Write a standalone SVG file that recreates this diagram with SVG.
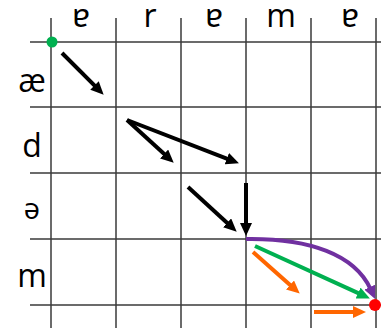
<svg xmlns="http://www.w3.org/2000/svg" width="381" height="328" viewBox="0 0 381 328">
<style>
.grid line{stroke:#3a3a3a;stroke-width:1.5}
.lbl{font-family:"Open Sans","Noto Sans",sans-serif;font-size:32px;fill:#000;text-anchor:middle}
.arr{fill:none;stroke-width:4;stroke-linecap:butt}
</style>
<defs>
<marker id="mk" markerUnits="userSpaceOnUse" markerWidth="14" markerHeight="12" refX="2" refY="6" orient="auto"><path d="M0,0 L13,6 L0,12 z" fill="#000"/></marker>
<marker id="mg" markerUnits="userSpaceOnUse" markerWidth="14" markerHeight="12" refX="2" refY="6" orient="auto"><path d="M0,0 L13,6 L0,12 z" fill="#00b050"/></marker>
<marker id="mo" markerUnits="userSpaceOnUse" markerWidth="14" markerHeight="12" refX="2" refY="6" orient="auto"><path d="M0,0 L13,6 L0,12 z" fill="#ff6600"/></marker>
<marker id="mp" markerUnits="userSpaceOnUse" markerWidth="14" markerHeight="12" refX="2" refY="6" orient="auto"><path d="M0,0 L13,6 L0,12 z" fill="#7030a0"/></marker>
</defs>
<rect width="381" height="328" fill="#fff"/>
<g id="grid" class="grid">
<line x1="30" y1="42" x2="381" y2="42"/>
<line x1="30" y1="107" x2="381" y2="107"/>
<line x1="30" y1="173" x2="381" y2="173"/>
<line x1="30" y1="239" x2="381" y2="239"/>
<line x1="30" y1="305" x2="381" y2="305"/>
<line x1="51" y1="18" x2="51" y2="328"/>
<line x1="116" y1="18" x2="116" y2="328"/>
<line x1="181" y1="18" x2="181" y2="328"/>
<line x1="246" y1="18" x2="246" y2="328"/>
<line x1="311" y1="18" x2="311" y2="328"/>
<line x1="376" y1="18" x2="376" y2="328"/>
</g>
<g id="col-labels">
<text class="lbl" x="81" y="27">ɐ</text>
<text class="lbl" x="150" y="27">r</text>
<text class="lbl" x="214" y="27">ɐ</text>
<text class="lbl" x="281" y="27">m</text>
<text class="lbl" x="350" y="27">ɐ</text>
</g>
<g id="row-labels">
<text class="lbl" x="32" y="92">æ</text>
<text class="lbl" x="32" y="157">d</text>
<text class="lbl" x="32" y="219" style="font-size:29px">ə</text>
<text class="lbl" x="32" y="287">m</text>
</g>
<g id="connectors">
<line class="arr" stroke="#000" x1="62" y1="53" x2="95.9" y2="86.9" marker-end="url(#mk)"/>
<line class="arr" stroke="#000" x1="127" y1="120" x2="165.6" y2="155.3" marker-end="url(#mk)"/>
<line class="arr" stroke="#000" x1="127" y1="120" x2="228.7" y2="159.4" marker-end="url(#mk)"/>
<line class="arr" stroke="#000" x1="188" y1="187" x2="228.6" y2="224.2" marker-end="url(#mk)"/>
<line class="arr" stroke="#000" x1="246" y1="183" x2="246" y2="225" marker-end="url(#mk)"/>
<path class="arr" stroke="#7030a0" d="M246,239 C310,238 355,255 370.5,289" marker-end="url(#mp)"/>
<line class="arr" stroke="#00b050" x1="255" y1="246" x2="359.9" y2="293.9" marker-end="url(#mg)"/>
<line class="arr" stroke="#ff6600" x1="253" y1="252" x2="291.5" y2="286.3" marker-end="url(#mo)"/>
<line class="arr" stroke="#ff6600" x1="314" y1="312" x2="355" y2="312" marker-end="url(#mo)"/>
</g>
<g id="start"><circle cx="52" cy="42" r="5.5" fill="#00b050"/></g>
<g id="end"><circle cx="375" cy="305" r="6" fill="#ff0000"/></g>
</svg>
